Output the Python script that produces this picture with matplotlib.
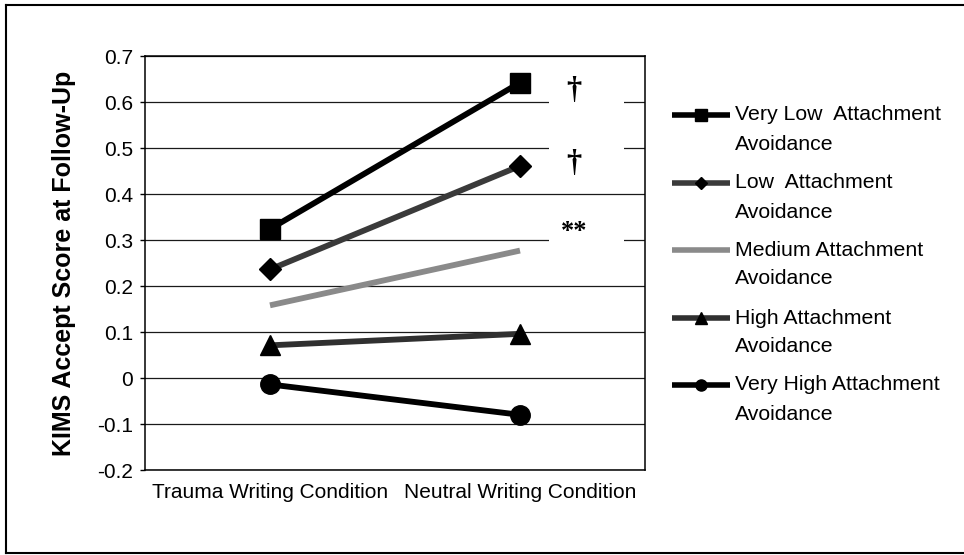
import matplotlib
matplotlib.use("Agg")
import matplotlib.pyplot as plt
from matplotlib.lines import Line2D
from matplotlib.patches import Rectangle

# ---- data -------------------------------------------------------------
conditions = ["Trauma Writing Condition", "Neutral Writing Condition"]
series_labels = [
    ("Very Low  Attachment", "Avoidance"),
    ("Low  Attachment", "Avoidance"),
    ("Medium Attachment", "Avoidance"),
    ("High Attachment", "Avoidance"),
    ("Very High Attachment", "Avoidance"),
]
very_low = [0.324, 0.642]
low = [0.236, 0.461]
medium = [0.158, 0.277]
high = [0.071, 0.096]
very_high = [-0.014, -0.080]
series_values = [very_low, low, medium, high, very_high]

y_ticks = [-0.2, -0.1, 0.0, 0.1, 0.2, 0.3, 0.4, 0.5, 0.6, 0.7]
y_tick_labels = ["-0.2", "-0.1", "0", "0.1", "0.2", "0.3", "0.4", "0.5", "0.6", "0.7"]

sig_marks = ["\u2020", "\u2020", "**"]
sig_y = [0.626, 0.467, 0.318]

# ---- styles -----------------------------------------------------------
styles = [
    dict(color="#000000", marker="s", ms=14, lms=8),
    dict(color="#3a3a3a", marker="D", ms=11, lms=6.5),
    dict(color="#8a8a8a", marker=None, ms=0, lms=0),
    dict(color="#303030", marker="^", ms=15, lms=9),
    dict(color="#000000", marker="o", ms=14, lms=8),
]

W, H = 964, 555
plt.rcParams["font.family"] = ["Liberation Sans", "DejaVu Sans"]
plt.rcParams["axes.unicode_minus"] = False

fig = plt.figure(figsize=(W / 100, H / 100), dpi=100)
fig.patch.set_facecolor("white")


def fx(px):
    return px / W


def fy(py):
    return 1 - py / H


# outer frame
for xs, ys in [((6, 980), (5, 5)), ((6, 6), (5, 553)), ((6, 980), (553, 553))]:
    fig.add_artist(Line2D([fx(x) for x in xs], [fy(y) for y in ys],
                          color="black", lw=1.5, transform=fig.transFigure,
                          clip_on=False))

ax_l, ax_r, ax_t, ax_b = 145, 645, 56, 470
ax = fig.add_axes([fx(ax_l), fy(ax_b), (ax_r - ax_l) / W, (ax_b - ax_t) / H])
ax.set_xlim(-0.5, 1.5)
ax.set_ylim(-0.2, 0.7)
ax.set_axisbelow(True)

ax.set_yticks(y_ticks)
ax.set_yticklabels(y_tick_labels, fontsize=15)
ax.set_xticks(range(len(conditions)))
ax.set_xticklabels(conditions, fontsize=15)
ax.tick_params(axis="y", direction="out", length=3.5, width=1, pad=5)
ax.tick_params(axis="x", length=0, pad=9)
ax.yaxis.grid(True, color="#1a1a1a", lw=0.9)
for sp in ax.spines.values():
    sp.set_color("black")
    sp.set_linewidth(1.1)

ax.set_ylabel("KIMS Accept Score at Follow-Up", fontsize=18,
              fontweight="bold", labelpad=15)

x = list(range(len(conditions)))
for vals, st in zip(series_values, styles):
    ax.plot(x, vals, color=st["color"], lw=4.2, marker=st["marker"],
            ms=st["ms"], mfc="black", mec="black", zorder=3,
            solid_capstyle="butt")

# significance marks with white backing that interrupts the gridlines
for mark, yv in zip(sig_marks, sig_y):
    ax.add_patch(Rectangle((1.116, yv - 0.04), 0.3, 0.075, facecolor="white",
                           edgecolor="none", zorder=1))
    ax.text(1.215, yv, mark, ha="center", va="center",
            fontsize=22 if mark == "\u2020" else 19, fontweight="bold",
            family=["Liberation Serif", "DejaVu Serif"], zorder=4)

# legend
leg_x0, leg_x1, txt_x = 672, 730, 735
row_y = [115, 183, 250, 318, 385]
for (l1, l2), st, yy in zip(series_labels, styles, row_y):
    fig.add_artist(Line2D([fx(leg_x0), fx(leg_x1)], [fy(yy), fy(yy)],
                          color=st["color"], lw=4, transform=fig.transFigure,
                          solid_capstyle="butt"))
    if st["marker"]:
        fig.add_artist(Line2D([fx((leg_x0 + leg_x1) / 2)], [fy(yy)],
                              marker=st["marker"], ms=st["lms"], mfc="black",
                              mec="black", lw=0, transform=fig.transFigure))
    fig.text(fx(txt_x), fy(yy), l1, ha="left", va="center", fontsize=15.3)
    fig.text(fx(txt_x), fy(yy + 29), l2, ha="left", va="center", fontsize=15.3)

fig.savefig("out.png", dpi=100, facecolor="white")
